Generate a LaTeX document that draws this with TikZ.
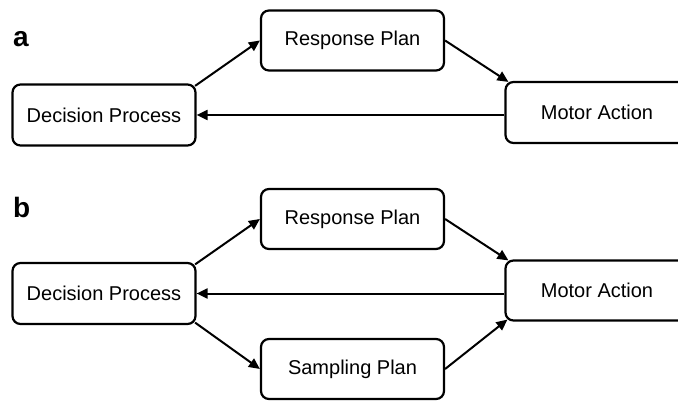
\documentclass[tikz,border=0pt]{standalone}
\usepackage{fontspec}
\setmainfont{Liberation Sans}
\usetikzlibrary{arrows.meta}
\begin{document}
\begin{tikzpicture}[x=1pt,y=-1pt,
  box/.style={draw, line width=2.2pt, rounded corners=8pt, minimum width=183pt,
    minimum height=60pt, inner sep=0pt, font=\fontsize{20}{23}\selectfont},
  link/.style={line width=2pt, -{Triangle[length=11pt,width=10pt]}},
  panel/.style={anchor=base west, inner sep=0pt, font=\fontsize{28}{30}\selectfont\bfseries}]
\useasboundingbox (0,0) rectangle (678,401);
\clip (0,0) rectangle (678,401);

% panel a
\node[panel] (la) at (13,47) {a};
\node[box, minimum height=61pt] (dpa) at (104,115) {Decision Process};
\node[box] (rpa) at (352.5,40.5) {Response Plan};
\node[box, minimum height=61pt] (maa) at (597,112.5) {Motor Action};

\draw[link] ([shift={(-1.5,2.5)}]dpa.north east) -- (rpa.west);
\draw[link] (rpa.east) -- ([shift={(4,1)}]maa.north west);
\draw[link] (maa.west |- dpa.east) -- (dpa.east);

% panel b
\node[panel] (lb) at (13,217.5) {b};
\node[box] (rpb) at (352.5,219) {Response Plan};
\node[box, minimum height=61pt] (dpb) at (104,293.5) {Decision Process};
\node[box] (mab) at (597,290.5) {Motor Action};
\node[box] (spb) at (352.5,369) {Sampling Plan};

\draw[link] ([shift={(-1.5,2.5)}]dpb.north east) -- (rpb.west);
\draw[link] (rpb.east) -- ([shift={(4,1)}]mab.north west);
\draw[link] (mab.west |- dpb.east) -- (dpb.east);
\draw[link] ([shift={(-1.5,-2.5)}]dpb.south east) -- (spb.west);
\draw[link] (spb.east) -- ([shift={(3,-2)}]mab.south west);
\end{tikzpicture}
\end{document}
